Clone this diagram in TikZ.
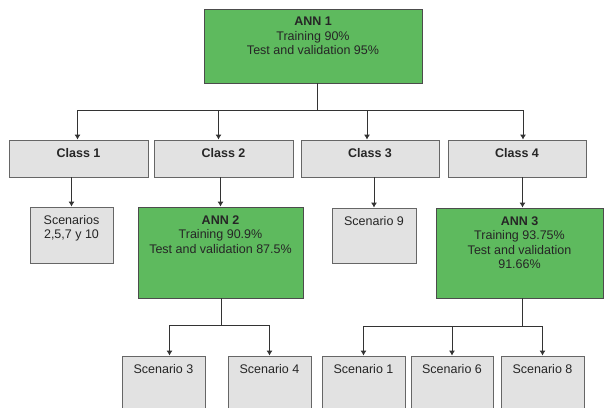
\documentclass[tikz,border=0pt]{standalone}
\usepackage{fontspec}
\setmainfont{Liberation Sans}
\usetikzlibrary{arrows.meta}
\definecolor{annGreen}{RGB}{94,186,94}
\definecolor{boxGray}{RGB}{226,226,226}

\begin{document}
\begin{tikzpicture}[x=1pt, y=-1pt,
    every node/.style={font=\fontsize{12.5}{14.5}\selectfont},
    ann/.style={draw=black!70, fill=annGreen, line width=0.8pt},
    grey/.style={draw=black!60, fill=boxGray, line width=0.8pt},
    txt/.style={label={[anchor=north, align=center, inner sep=0pt, yshift=-8.5pt, text=black!85]north:{#1}}},
    arr/.style={draw=black!80, line width=0.8pt, -{Latex[length=5pt,width=6pt]}},
    link/.style={draw=black!80, line width=0.8pt}]
    \clip (0,0) rectangle (607,407);

    % First network
    \node[ann, minimum width=218, minimum height=74,
          txt={\textbf{ANN 1}\\Training 90\%\\Test and validation 95\%}] (ann1) at (313,46) {};

    % Classes
    \node[grey, minimum width=139, minimum height=37, txt={\textbf{Class 1}}] (c1) at (78.5,158.5) {};
    \node[grey, minimum width=139, minimum height=37, txt={\textbf{Class 2}}] (c2) at (223.5,158.5) {};
    \node[grey, minimum width=138, minimum height=37, txt={\textbf{Class 3}}] (c3) at (370,158.5) {};
    \node[grey, minimum width=138, minimum height=37, txt={\textbf{Class 4}}] (c4) at (517,158.5) {};

    % Second level
    \node[grey, minimum width=83, minimum height=56, txt={Scenarios\\2,5,7 y 10}] (s1) at (71.5,235) {};
    \node[ann, minimum width=165, minimum height=91,
          txt={\textbf{ANN 2}\\Training 90.9\%\\Test and validation 87.5\%}] (ann2) at (220.5,252.5) {};
    \node[grey, minimum width=84, minimum height=55, txt={Scenario 9}] (s9) at (374,235.5) {};
    \node[ann, minimum width=167, minimum height=90,
          txt={\textbf{ANN 3}\\Training 93.75\%\\Test and validation\\91.66\%}] (ann3) at (519.5,253) {};

    % Scenarios
    \node[grey, minimum width=83, minimum height=70, txt={Scenario 3}] (s3) at (163.5,391) {};
    \node[grey, minimum width=83, minimum height=70, txt={Scenario 4}] (s4) at (269.5,391) {};
    \node[grey, minimum width=83, minimum height=70, txt={Scenario 1}] (sc1) at (363.5,391) {};
    \node[grey, minimum width=82, minimum height=70, txt={Scenario 6}] (sc6) at (452,391) {};
    \node[grey, minimum width=83, minimum height=70, txt={Scenario 8}] (sc8) at (542.5,391) {};

    % ANN 1 to classes
    \coordinate (b1) at (317,110);
    \draw[link] (ann1.south -| b1) -- (b1);
    \draw[arr] (b1) -| ([xshift=-1pt]c1.north);
    \draw[arr] (b1) -| ([xshift=-5pt]c2.north);
    \draw[arr] (b1) -| ([xshift=-3pt]c3.north);
    \draw[arr] (b1) -| ([xshift=6pt]c4.north);

    % Classes to second level
    \draw[arr] (c1.south -| s1.north) -- (s1.north);
    \draw[arr] (c2.south -| ann2.north) -- (ann2.north);
    \draw[arr] (c3.south -| s9.north) -- (s9.north);
    \draw[arr] ([xshift=3pt]ann3.north |- c4.south) -- ([xshift=3pt]ann3.north);

    % ANN 2 and ANN 3 to scenarios
    \coordinate (b2) at (221,325);
    \draw[link] (ann2.south -| b2) -- (b2);
    \draw[arr] (b2) -| ([xshift=6pt]s3.north);
    \draw[arr] (b2) -| (s4.north);
    \coordinate (b3) at (522,326);
    \draw[link] (ann3.south -| b3) -- (b3);
    \draw[arr] (b3) -| (sc1.north);
    \draw[arr] (b3) -| (sc6.north);
    \draw[arr] (b3) -| (sc8.north);
\end{tikzpicture}
\end{document}
